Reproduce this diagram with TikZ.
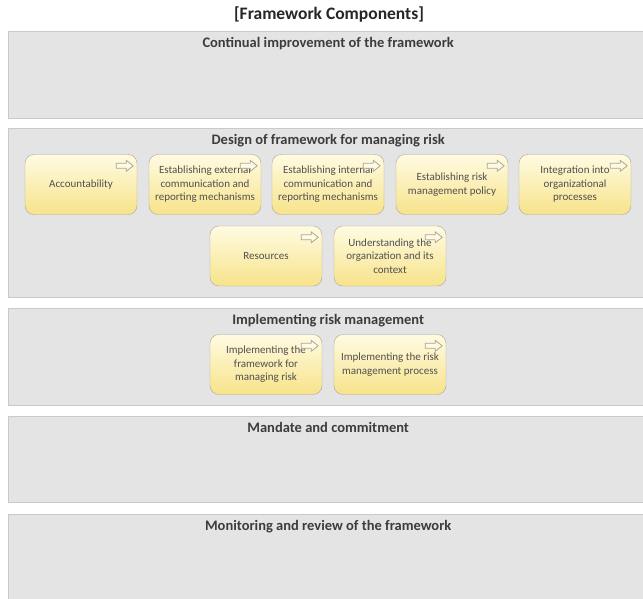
\documentclass[tikz,border=0pt]{standalone}
\usepackage{fontspec}
\setmainfont{Carlito}
\usepackage{tikz}
\usetikzlibrary{positioning}

\definecolor{grpfill}{HTML}{E4E4E4}
\definecolor{grpline}{HTML}{C9C9C9}
\definecolor{txtgray}{HTML}{3C3C3C}
\definecolor{cmptop}{HTML}{FFFBE2}
\definecolor{cmpbot}{HTML}{F7E38A}
\definecolor{cmpline}{HTML}{A9A69A}

\begin{document}
\begin{tikzpicture}[
  x=1pt, y=-1pt,
  grp/.style={draw=grpline, fill=grpfill, anchor=north west,
              minimum width=652pt, inner sep=0pt},
  grplabel/.style={font=\fontsize{14.5}{16}\selectfont\bfseries, text=txtgray, inner sep=0pt},
  cmp/.style={draw=cmpline, rounded corners=9pt, top color=cmptop, bottom color=cmpbot,
              minimum width=112pt, minimum height=60pt, align=center,
              inner sep=0pt, font=\fontsize{11}{13.5}\selectfont, text=txtgray!90},
  icon/.style={draw=cmpline, fill=cmptop, line width=0.8pt, line join=round}
]
  \clip (0,0) rectangle (643,598);
  \fill[white] (0,0) rectangle (643,598);

  \node[font=\fontsize{17.5}{20}\selectfont\bfseries, text=black!85] (title) at (329,14) {[Framework Components]};

  % layers
  \node[grp, minimum height=87pt]  (cont) at (8,31)  {};
  \node[grp, minimum height=169pt] (dsgn) at (8,128) {};
  \node[grp, minimum height=97pt]  (impl) at (8,308) {};
  \node[grp, minimum height=86pt]  (mand) at (8,416) {};
  \node[grp, minimum height=100pt] (mntr) at (8,514) {};

  \node[grplabel, below=6pt of cont.north, xshift=-6pt] (contlbl) {Continual improvement of the framework};
  \node[grplabel, below=6pt of dsgn.north, xshift=-6pt] (dsgnlbl) {Design of framework for managing risk};
  \node[grplabel, below=6pt of impl.north, xshift=-6pt] (impllbl) {Implementing risk management};
  \node[grplabel, below=6pt of mand.north, xshift=-6pt] (mandlbl) {Mandate and commitment};
  \node[grplabel, below=6pt of mntr.north, xshift=-6pt] (mntrlbl) {Monitoring and review of the framework};

  % components
  \node[cmp] (acct) at (81,184.5)  {Accountability};
  \node[cmp] (extc) at (205,184.5) {Establishing external\\communication and\\reporting mechanisms};
  \node[cmp] (intc) at (328,184.5) {Establishing internal\\communication and\\reporting mechanisms};
  \node[cmp] (plcy) at (452,184.5) {Establishing risk\\management policy};
  \node[cmp] (intg) at (575,184.5) {Integration into\\organizational\\processes};
  \node[cmp] (rsrc) at (266,256)   {Resources};
  \node[cmp] (undr) at (390,256)   {Understanding the\\organization and its\\context};
  \node[cmp] (ifrm) at (266,364.5) {Implementing the\\framework for\\managing risk};
  \node[cmp] (iprc) at (390,364.5) {Implementing the risk\\management process};

  % process arrows in the corners
  \foreach \n in {acct,extc,intc,plcy,intg,rsrc,undr,ifrm,iprc}
    \draw[icon, shift={(\n.north east)}]
      (-21,9) -- (-11,9) -- (-11,6) -- (-4,11.5) -- (-11,17) -- (-11,14) -- (-21,14) -- cycle;
\end{tikzpicture}
\end{document}
